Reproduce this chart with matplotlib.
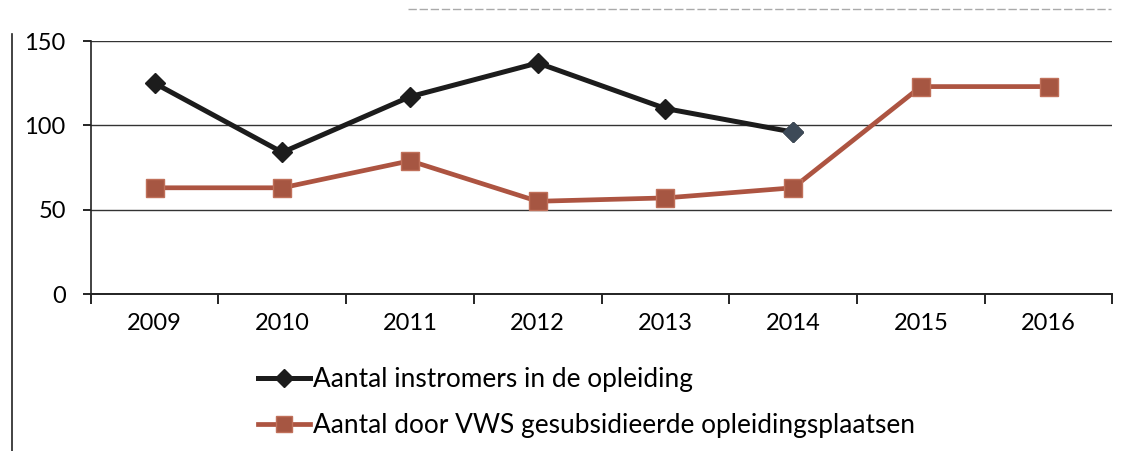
import numpy as np
import matplotlib.pyplot as plt
from matplotlib.lines import Line2D

plt.rcParams['font.family'] = ['Lato', 'DejaVu Sans']

years = ['2009', '2010', '2011', '2012', '2013', '2014', '2015', '2016']
instromers = [125, 84, 117, 137, 110, 96]
gesubsidieerd = [63, 63, 79, 55, 57, 63, 123, 123]
label_instromers = 'Aantal instromers in de opleiding'
label_plaatsen = 'Aantal door VWS gesubsidieerde opleidingsplaatsen'

black = '#1c1c1c'
brown = '#ad5441'
brown_marker = '#a65642'

fig = plt.figure(figsize=(11.34, 4.51), dpi=100)
ax = fig.add_axes([0.080, 0.348, 0.901, 0.561])

x = np.arange(len(years))
ax.plot(x[:len(instromers)], instromers, color=black, lw=3.6, marker='D',
        markersize=10, markerfacecolor=black, markeredgecolor=black, zorder=4)
# last marker looks slate blue in the scan
ax.plot(x[len(instromers) - 1], instromers[-1], marker='D', markersize=10,
        color='#3d4a58', zorder=5)
ax.plot(x, gesubsidieerd, color=brown, lw=3.4, marker='s', markersize=13,
        markerfacecolor=brown_marker, markeredgecolor='#c0705a', zorder=3)

ax.set_xlim(-0.5, len(years) - 0.5)
ax.set_ylim(0, 150)
ax.set_yticks([0, 50, 100, 150])
ax.yaxis.grid(True, color='#333333', lw=1.0)
ax.set_axisbelow(True)

# category labels centred, tick marks between categories (Excel style)
ax.set_xticks(x)
ax.set_xticklabels(years)
ax.set_xticks(np.arange(-0.5, len(years)), minor=True)
ax.tick_params(axis='x', which='major', length=0, pad=14, labelsize=17)
ax.tick_params(axis='x', which='minor', length=7, width=1.2, direction='out')
ax.tick_params(axis='y', length=6, width=1.2, labelsize=17, pad=12)

for s in ['top', 'right']:
    ax.spines[s].set_visible(False)
ax.spines['left'].set_color('#222222')
ax.spines['bottom'].set_color('#222222')
ax.spines['left'].set_linewidth(1.2)
ax.spines['bottom'].set_linewidth(1.4)

handles = [
    Line2D([], [], color=black, lw=3.6, marker='D', markersize=9),
    Line2D([], [], color=brown, lw=3.4, marker='s', markersize=12,
           markerfacecolor=brown_marker, markeredgecolor='#c0705a'),
]
fig.legend(handles, [label_instromers, label_plaatsen], loc='upper left',
           bbox_to_anchor=(0.218, 0.21), frameon=False, fontsize=18.9,
           handlelength=2.0, handletextpad=0.1, labelspacing=0.8,
           borderaxespad=0)

# outer frame line of the scanned chart
fig.add_artist(Line2D([0.011, 0.011], [0.0, 0.925], color='#222222', lw=1.2))
fig.add_artist(Line2D([0.36, 0.98], [0.98, 0.98], color='#aaaaaa', lw=1.0,
                      ls=(0, (6, 2))))

fig.savefig('out.png', dpi=100)
